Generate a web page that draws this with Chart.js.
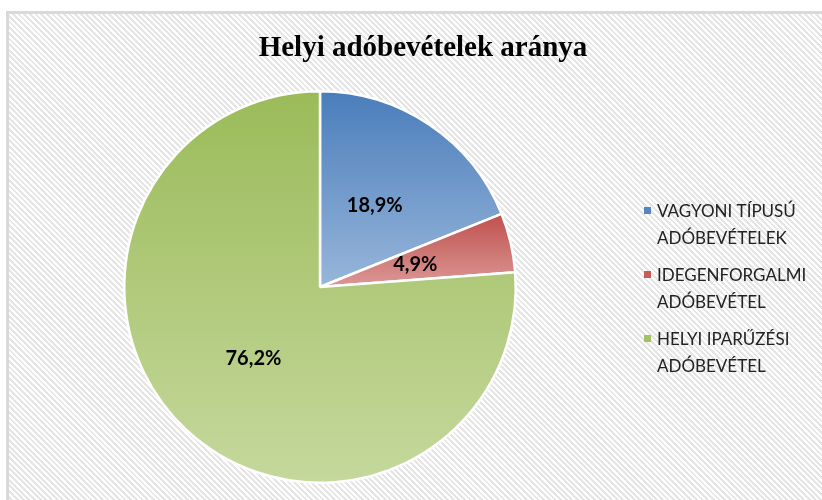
<!DOCTYPE html>
<html><head><meta charset="utf-8">
<script src="https://cdn.jsdelivr.net/npm/chart.js@4"></script>
<style>
html,body{margin:0;padding:0;background:#fff;}
#wrap{position:relative;width:822px;height:500px;overflow:hidden;}
#frame{position:absolute;left:6px;top:11px;width:900px;height:600px;border:3px solid #d9d9d9;
 background:repeating-linear-gradient(45deg,#ffffff 0px,#ffffff 2px,#e5e5e5 2px,#e5e5e5 4px);}
canvas{position:absolute;left:0;top:0;}
</style></head><body>
<div id="wrap"><div id="frame"></div><canvas id="c" width="822" height="500"></canvas></div>
<script>
const chartTitle = 'Helyi adóbevételek aránya';
const categories = [['VAGYONI TÍPUSÚ','ADÓBEVÉTELEK'],['IDEGENFORGALMI','ADÓBEVÉTEL'],['HELYI IPARŰZÉSI','ADÓBEVÉTEL']];
const shares = [18.9, 4.9, 76.2];
const valueLabels = shares.map(v => v.toFixed(1).replace('.', ',') + '%');

const gradTop = ['#4a7dbb', '#c0504d', '#9bbb59'];
const gradBottom = ['#98b6da', '#db9896', '#c5d89d'];
const markerColors = ['#5585c2', '#c65c59', '#a3c166'];

function sliceGradient(ctx) {
  const chart = ctx.chart, i = ctx.dataIndex;
  const meta = chart.getDatasetMeta(0);
  const area = chart.chartArea;
  const r = meta.controller && meta.controller.outerRadius;
  if (!area || !r) return gradTop[i];
  const cx = (area.left + area.right) / 2, cy = (area.top + area.bottom) / 2;
  const total = shares.reduce((a, b) => a + b, 0);
  let before = 0; for (let k = 0; k < i; k++) before += shares[k];
  const a0 = -Math.PI / 2 + before / total * 2 * Math.PI;
  const a1 = a0 + shares[i] / total * 2 * Math.PI;
  const ys = [cy, cy + r * Math.sin(a0), cy + r * Math.sin(a1)];
  for (const e of [-Math.PI / 2, Math.PI / 2, 3 * Math.PI / 2]) if (e >= a0 && e <= a1) ys.push(cy + r * Math.sin(e));
  const g = chart.ctx.createLinearGradient(0, Math.min(...ys), 0, Math.max(...ys));
  g.addColorStop(0, gradTop[i]);
  g.addColorStop(1, gradBottom[i]);
  return g;
}

const decorPlugin = {
  id: 'decor',
  afterDatasetsDraw(chart) {
    const ctx = chart.ctx;
    const arcs = chart.getDatasetMeta(0).data;
    ctx.save();
    ctx.fillStyle = '#000';
    ctx.font = 'bold 20px Lato';
    ctx.textAlign = 'center';
    ctx.textBaseline = 'middle';
    arcs.forEach((arc, i) => {
      const p = arc.getProps(['x', 'y', 'startAngle', 'endAngle', 'outerRadius'], true);
      const mid = (p.startAngle + p.endAngle) / 2;
      const d = p.outerRadius * 0.5;
      ctx.fillText(valueLabels[i], p.x + Math.cos(mid) * d, p.y + Math.sin(mid) * d);
    });
    ctx.restore();
  },
  afterDraw(chart) {
    const ctx = chart.ctx;
    ctx.save();
    ctx.fillStyle = '#000';
    ctx.font = 'bold 29px "Liberation Serif"';
    ctx.textAlign = 'center';
    ctx.textBaseline = 'alphabetic';
    ctx.fillText(chartTitle, 423, 56);
    ctx.font = '17px Lato';
    ctx.textAlign = 'left';
    categories.forEach((lines, i) => {
      const base = 217 + i * 64;
      ctx.fillStyle = markerColors[i];
      ctx.fillRect(644, base - 10, 7, 7);
      ctx.fillStyle = '#222222';
      lines.forEach((t, j) => ctx.fillText(t, 657, base + j * 27));
    });
    ctx.restore();
  }
};

new Chart(document.getElementById('c'), {
  type: 'pie',
  data: {
    labels: categories,
    datasets: [{
      data: shares,
      backgroundColor: sliceGradient,
      hoverBackgroundColor: sliceGradient,
      borderColor: '#ffffff',
      hoverBorderColor: '#ffffff',
      borderWidth: 2.5,
      hoverOffset: 0
    }]
  },
  options: {
    responsive: false,
    animation: false,
    events: [],
    layout: { padding: { left: 123, right: 305, top: 90, bottom: 16 } },
    plugins: { legend: { display: false }, tooltip: { enabled: false }, title: { display: false } }
  },
  plugins: [decorPlugin]
});
</script>
</body></html>
